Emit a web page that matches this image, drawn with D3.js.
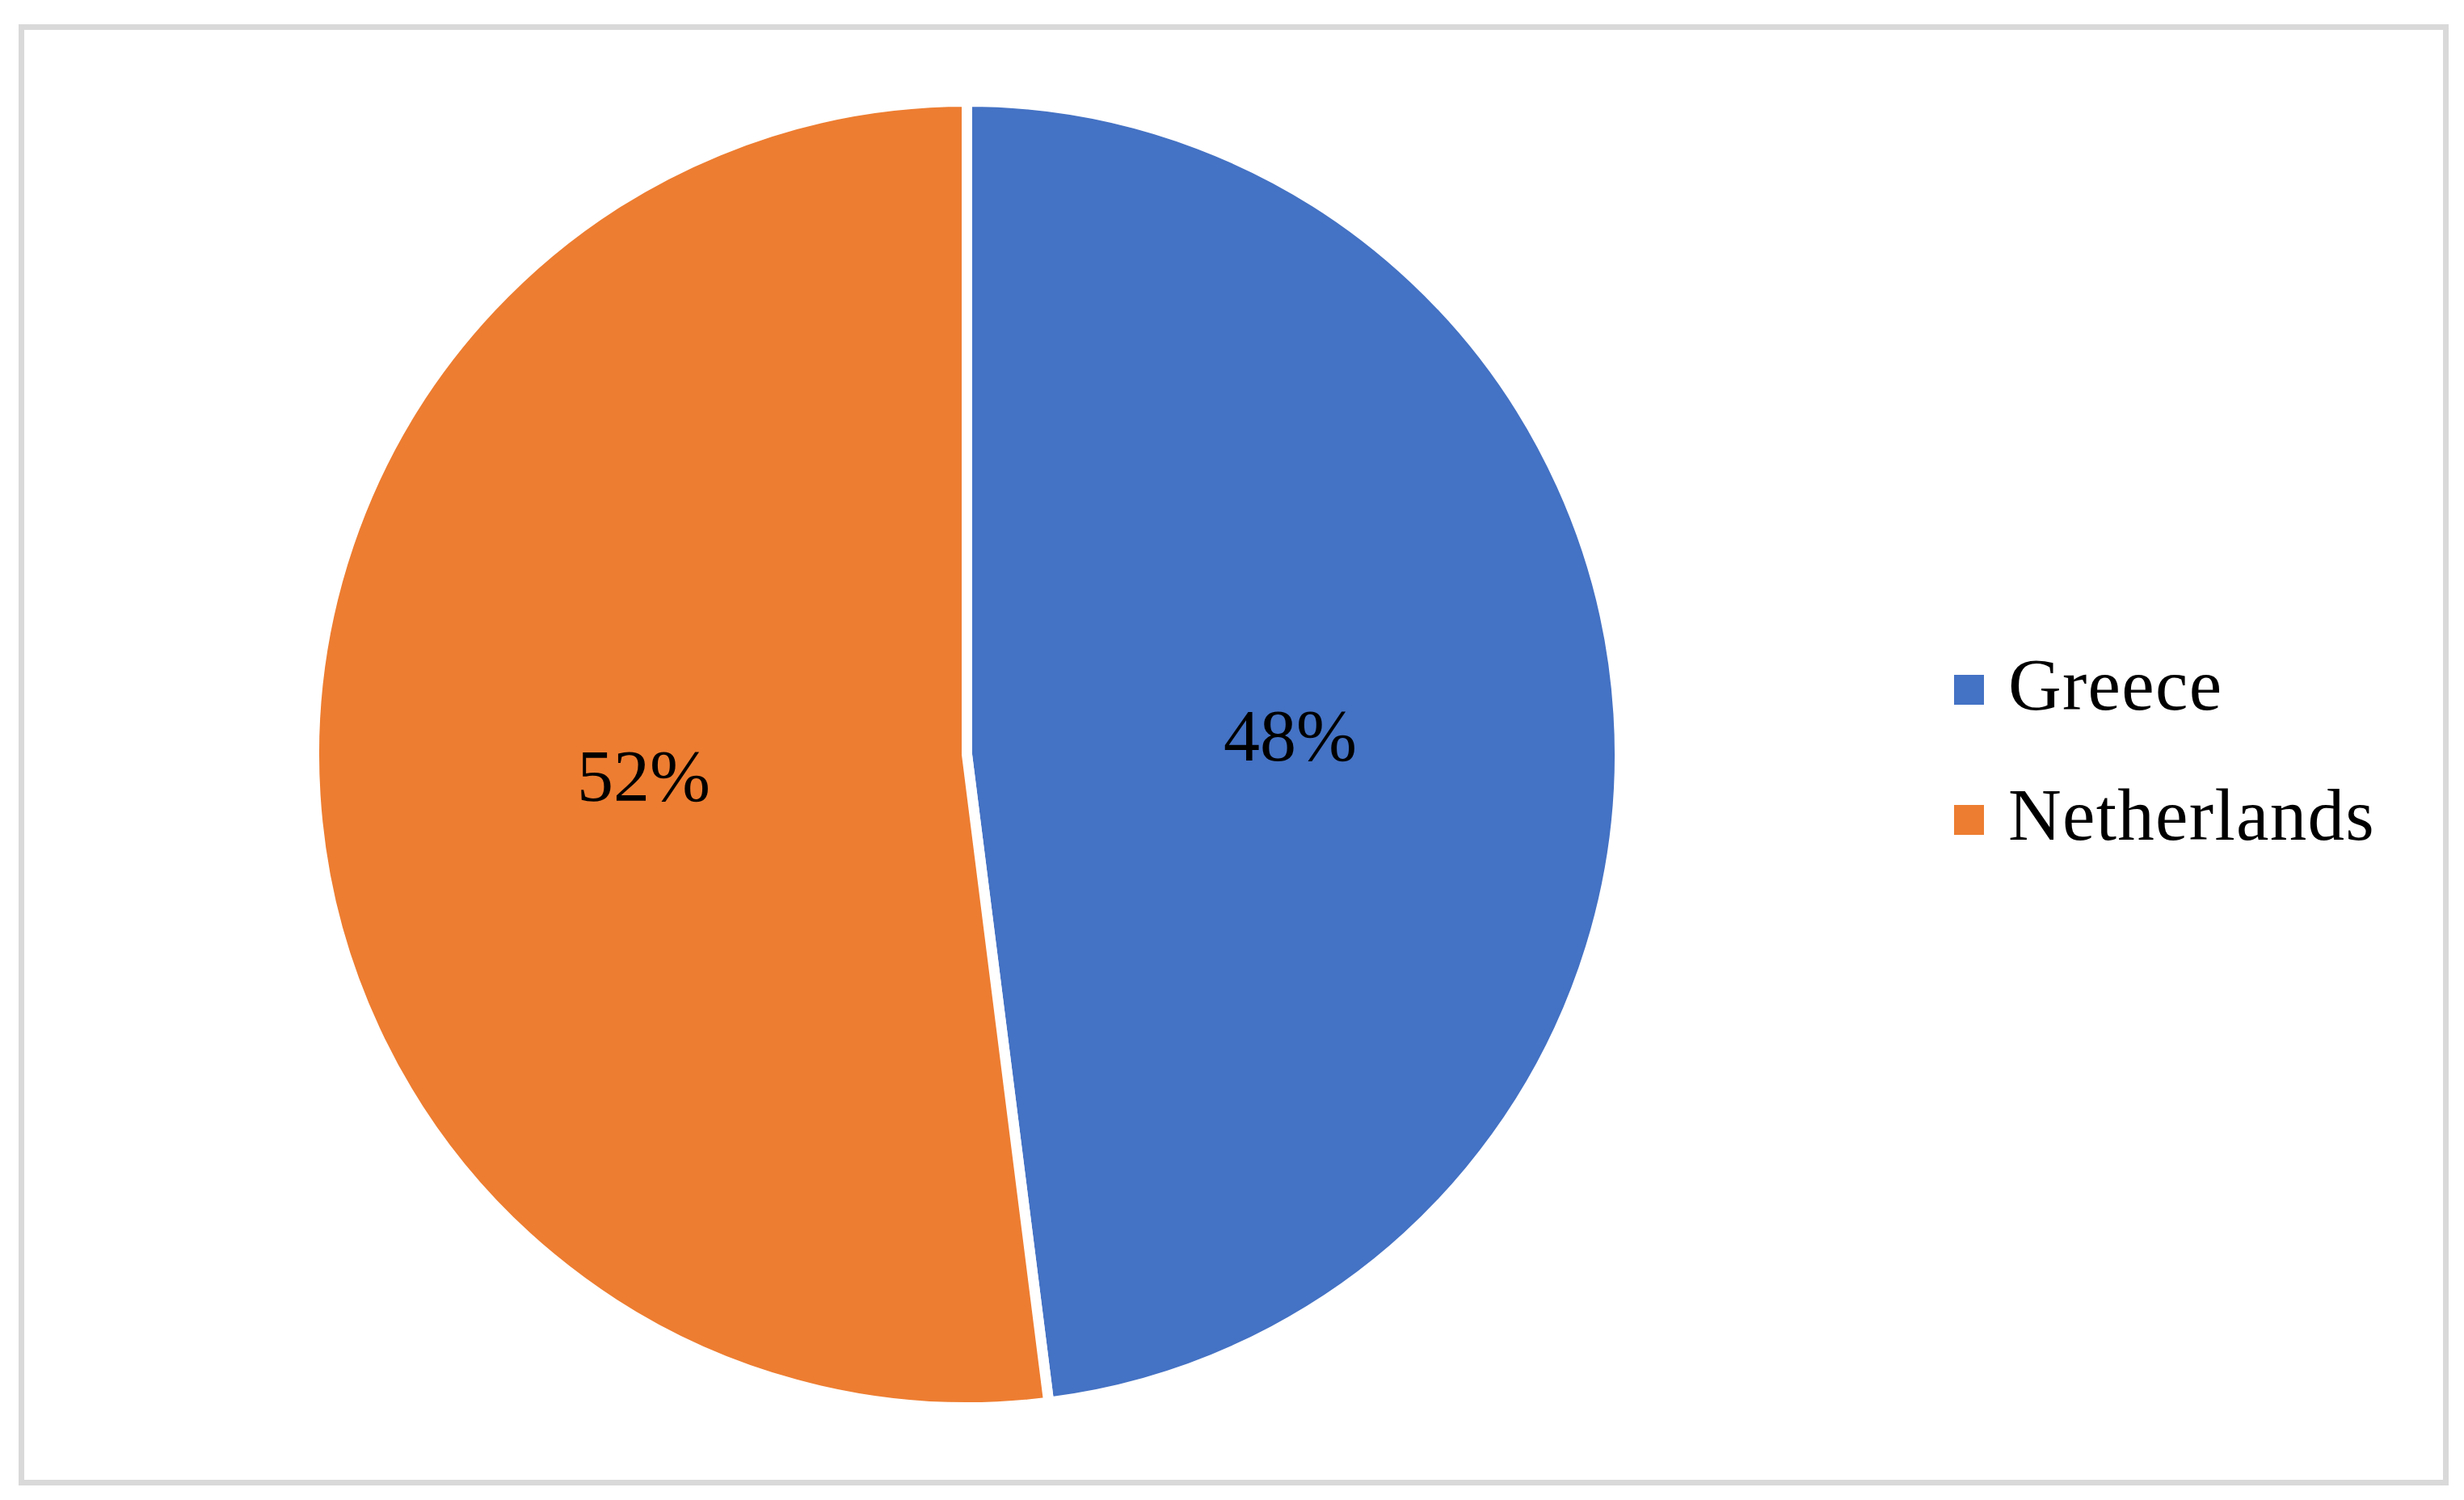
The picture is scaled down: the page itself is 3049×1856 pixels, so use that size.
<!DOCTYPE html>
<html>
<head>
<meta charset="utf-8">
<script src="https://cdn.jsdelivr.net/npm/d3@7"></script>
<style>
  html, body { margin: 0; padding: 0; background: #ffffff; }
  svg { display: block; }
</style>
</head>
<body>
<script>
const categories = ["Greece", "Netherlands"];
const values = [48, 52];
const colors = ["#4472C4", "#ED7D31"];

const W = 3049, H = 1856;
const svg = d3.select("body").append("svg").attr("width", W).attr("height", H);

// chart border
svg.append("rect").attr("x", 23).attr("y", 30).attr("width", 3007).attr("height", 1808).attr("fill", "#D9D9D9");
svg.append("rect").attr("x", 30).attr("y", 37).attr("width", 2993).attr("height", 1794).attr("fill", "#ffffff");

const cx = 1196.5, cy = 933.5, r = 801.5, gap = 13;
const color = d3.scaleOrdinal().domain(categories).range(colors);

const data = categories.map((c, i) => ({ name: c, value: values[i] }));
const pie = d3.pie().value(d => d.value).sort(null);
const arcs = pie(data);
const arc = d3.arc().innerRadius(0).outerRadius(r + gap / 2);
const labelArc = d3.arc().innerRadius(0).outerRadius(r);

const g = svg.append("g").attr("transform", `translate(${cx},${cy})`);
g.selectAll("path").data(arcs).enter().append("path")
  .attr("d", arc)
  .attr("fill", d => color(d.data.name))
  .attr("stroke", "#ffffff")
  .attr("stroke-width", gap)
  .attr("stroke-linejoin", "miter");

const font = "'Liberation Serif', 'Times New Roman', serif";
const total = d3.sum(values);
g.selectAll("text.lbl").data(arcs).enter().append("text")
  .attr("class", "lbl")
  .attr("transform", d => { const c = labelArc.centroid(d); return `translate(${c[0]},${c[1]})`; })
  .attr("text-anchor", "middle")
  .attr("dy", "0.36em")
  .attr("font-family", font)
  .attr("font-size", 90)
  .attr("fill", "#000000")
  .text(d => Math.round(d.data.value / total * 100) + "%");

// legend
const legend = svg.append("g");
const legY = [878, 1039];
categories.forEach((c, i) => {
  legend.append("rect")
    .attr("x", 2418).attr("y", legY[i] - 43)
    .attr("width", 37).attr("height", 37)
    .attr("fill", color(c));
  legend.append("text")
    .attr("x", 2485).attr("y", legY[i])
    .attr("font-family", font)
    .attr("font-size", 91)
    .attr("letter-spacing", 1.3)
    .attr("fill", "#000000")
    .text(c);
});
</script>
</body>
</html>
